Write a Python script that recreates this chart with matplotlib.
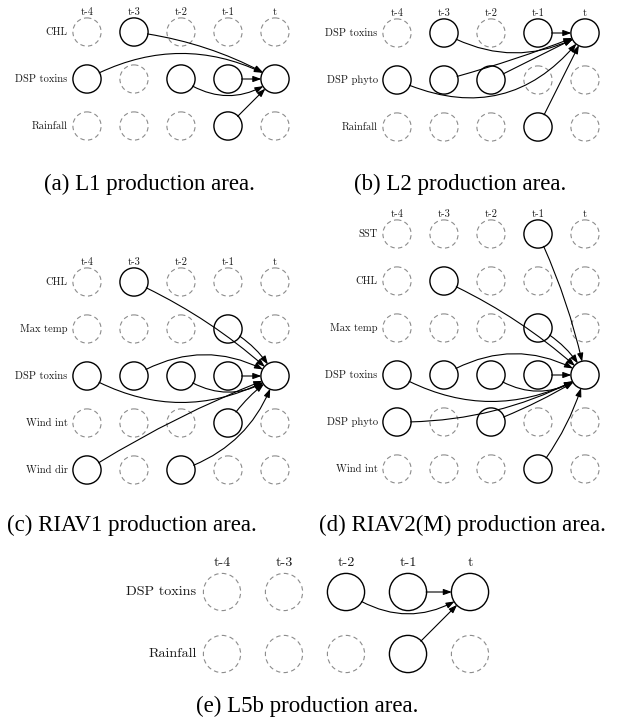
import matplotlib.pyplot as plt
from matplotlib.patches import Circle, FancyArrowPatch

# ---- data ----
lags = ["t-4", "t-3", "t-2", "t-1", "t"]
target = ("DSP toxins", "t")

rows_a = ["CHL", "DSP toxins", "Rainfall"]
active_a = [["t-3"], ["t-4", "t-2", "t-1", "t"], ["t-1"]]
sources_a = [("CHL", "t-3"), ("DSP toxins", "t-4"), ("DSP toxins", "t-2"),
             ("DSP toxins", "t-1"), ("Rainfall", "t-1")]

rows_b = ["DSP toxins", "DSP phyto", "Rainfall"]
active_b = [["t-3", "t-1", "t"], ["t-4", "t-3", "t-2"], ["t-1"]]
sources_b = [("DSP toxins", "t-3"), ("DSP toxins", "t-1"), ("DSP phyto", "t-4"),
             ("DSP phyto", "t-3"), ("DSP phyto", "t-2"), ("Rainfall", "t-1")]

rows_c = ["CHL", "Max temp", "DSP toxins", "Wind int", "Wind dir"]
active_c = [["t-3"], ["t-1"], ["t-4", "t-3", "t-2", "t-1", "t"], ["t-1"], ["t-4", "t-2"]]
sources_c = [("CHL", "t-3"), ("Max temp", "t-1"), ("DSP toxins", "t-4"),
             ("DSP toxins", "t-3"), ("DSP toxins", "t-2"), ("DSP toxins", "t-1"),
             ("Wind int", "t-1"), ("Wind dir", "t-4"), ("Wind dir", "t-2")]

rows_d = ["SST", "CHL", "Max temp", "DSP toxins", "DSP phyto", "Wind int"]
active_d = [["t-1"], ["t-3"], ["t-1"], ["t-4", "t-3", "t-2", "t-1", "t"], ["t-4", "t-2"], ["t-1"]]
sources_d = [("SST", "t-1"), ("CHL", "t-3"), ("Max temp", "t-1"), ("DSP toxins", "t-4"),
             ("DSP toxins", "t-3"), ("DSP toxins", "t-2"), ("DSP toxins", "t-1"),
             ("DSP phyto", "t-4"), ("DSP phyto", "t-2"), ("Wind int", "t-1")]

rows_e = ["DSP toxins", "Rainfall"]
active_e = [["t-2", "t-1", "t"], ["t-1"]]
sources_e = [("DSP toxins", "t-2"), ("DSP toxins", "t-1"), ("Rainfall", "t-1")]

captions = ["(a) L1 production area.", "(b) L2 production area.",
            "(c) RIAV1 production area.", "(d) RIAV2(M) production area.",
            "(e) L5b production area."]

# ---- style / layout ----
# arrow curvature per edge (arc3 rad)
bends_a = [-0.1, -0.27, 0.35, 0.0, 0.0]
bends_b = [0.28, 0.0, 0.4, 0.03, 0.0, 0.0]
bends_c = [-0.08, -0.15, 0.28, -0.3, 0.34, 0.0, -0.1, -0.05, 0.25]
bends_d = [-0.06, -0.08, -0.15, 0.28, -0.3, 0.34, 0.0, 0.13, 0.05, 0.1]
bends_e = [0.35, 0.0, 0.0]

W, H = 628, 727
fig = plt.figure(figsize=(W / 100, H / 100), dpi=100)


def draw_panel(x0, y0, step, rows, active, sources, bends, fs, lab_off):
    ax = fig.add_axes([0, 0, 1, 1])
    ax.set_xlim(-x0 / step, (W - x0) / step)
    ax.set_ylim((H - y0) / step, -y0 / step)
    ax.axis('off')
    r = 0.3
    nodes = {}
    for i, name in enumerate(rows):
        ax.text(-0.41, i, name, ha='right', va='center', fontfamily='cmr10',
                fontsize=fs, color='#1a1a1a')
        for j, lag in enumerate(lags):
            on = lag in active[i]
            c = Circle((j, i), r, fill=False,
                       ec='black' if on else '#8c8c8c',
                       lw=1.0 if on else 0.8,
                       ls='-' if on else (0, (4, 3)))
            ax.add_patch(c)
            nodes[(name, lag)] = c
    for j, lag in enumerate(lags):
        ax.text(j, -lab_off, lag, ha='center', va='center', fontfamily='cmr10',
                fontsize=fs, color='#1a1a1a')
    tgt = nodes[target]
    for src, bend in zip(sources, bends):
        a = FancyArrowPatch(nodes[src].center, tgt.center,
                            patchA=nodes[src], patchB=tgt,
                            shrinkA=0, shrinkB=0,
                            connectionstyle=f"arc3,rad={bend}",
                            arrowstyle="-|>,head_length=0.5,head_width=0.18",
                            mutation_scale=10, lw=0.8, color='black')
        ax.add_patch(a)


draw_panel(87, 32, 47, rows_a, active_a, sources_a, bends_a, 7.6, 0.43)
draw_panel(397, 33, 47, rows_b, active_b, sources_b, bends_b, 7.6, 0.43)
draw_panel(87, 282, 47, rows_c, active_c, sources_c, bends_c, 7.6, 0.43)
draw_panel(397, 234, 47, rows_d, active_d, sources_d, bends_d, 7.6, 0.43)
draw_panel(222, 592, 62, rows_e, active_e, sources_e, bends_e, 10.2, 0.47)

cap_pos = [(149, 184), (460, 184), (132, 525), (462, 525), (307, 706)]
for txt, (cx, cy) in zip(captions, cap_pos):
    fig.text(cx / W, 1 - cy / H, txt, ha='center', va='center',
             fontfamily='Liberation Serif', fontsize=16.5)

fig.savefig('out.png', dpi=100)
